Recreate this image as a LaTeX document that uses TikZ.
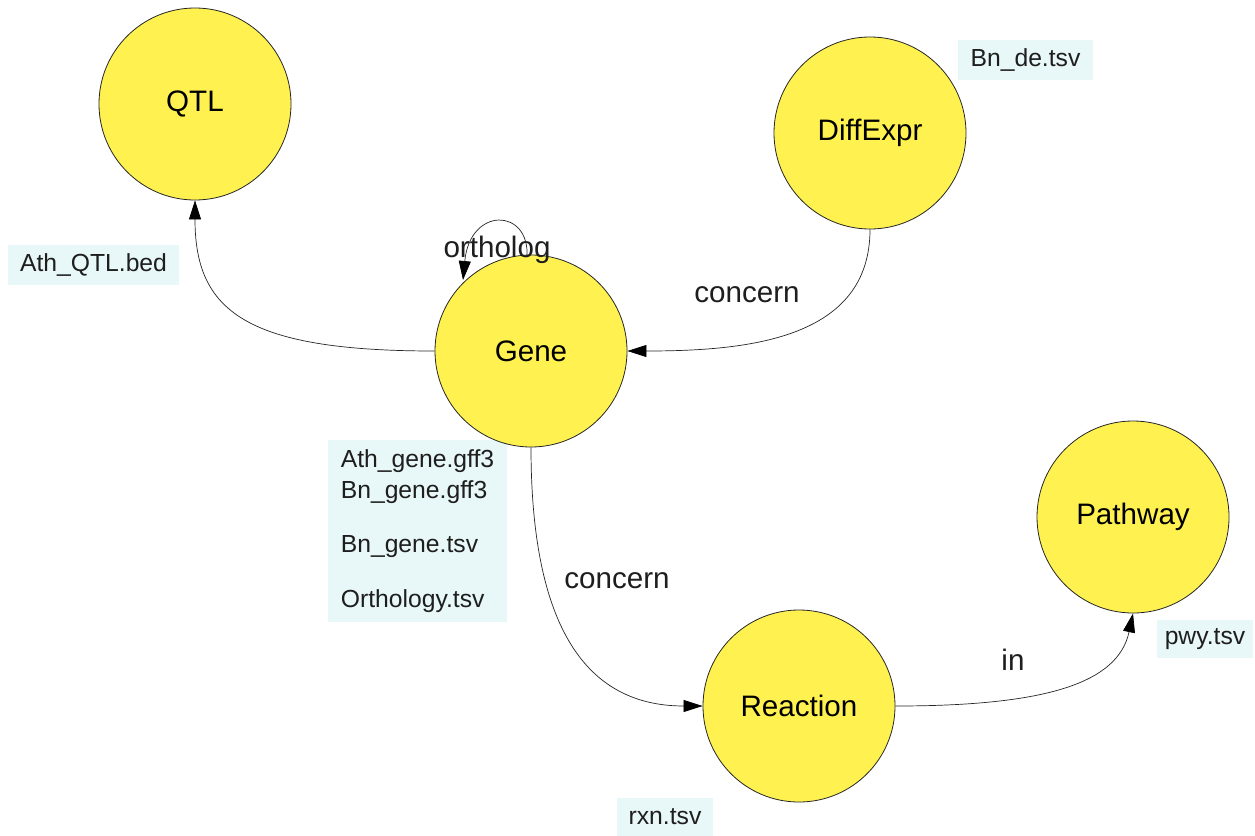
\documentclass[tikz,border=0pt]{standalone}
\usepackage{fontspec}
\setmainfont{Liberation Sans}
\usetikzlibrary{arrows.meta}
\definecolor{nodeyellow}{RGB}{255,242,80}
\definecolor{boxcyan}{RGB}{232,247,247}
\definecolor{txt}{RGB}{30,30,30}
\begin{document}
\begin{tikzpicture}[x=1pt,y=-1pt,
  entity/.style={circle, draw=black!85, line width=0.8pt, fill=nodeyellow, minimum size=192pt, inner sep=0pt, font=\fontsize{29.6}{34}\selectfont},
  filebox/.style={fill=boxcyan, text=txt, inner sep=0pt, font=\fontsize{24.7}{31}\selectfont},
  rel/.style={draw=black!85, line width=0.7pt, -{Triangle[length=19pt,width=12pt,fill=black,color=black]}},
  rellabel/.style={font=\fontsize{29.6}{34}\selectfont, anchor=base, text=txt}]
\useasboundingbox (0,0) rectangle (1255,835);
\fill[white] (0,0) rectangle (1255,835);
% file boxes
\node[filebox, minimum width=171pt, minimum height=40pt] (qtlfile) at (93.5,265) {Ath\_QTL.bed};
\node[filebox, minimum width=135pt, minimum height=40pt] (defile) at (1025.5,60) {Bn\_de.tsv};
\node[filebox, minimum width=96pt, minimum height=38pt] (pwyfile) at (1205,639) {pwy.tsv};
\node[filebox, minimum width=96pt, minimum height=38pt] (rxnfile) at (665,817) {rxn.tsv};
\node[filebox, minimum width=179pt, minimum height=182pt, align=left, inner xsep=12pt] (genefile) at (417.5,531)
  {Ath\_gene.gff3\\Bn\_gene.gff3\\[23pt]Bn\_gene.tsv\\[24pt]Orthology.tsv};
% entities
\node[entity] (qtl) at (195,104) {QTL};
\node[entity] (diff) at (870,133) {DiffExpr};
\node[entity] (gene) at (531,351) {Gene};
\node[entity] (path) at (1133,517) {Pathway};
\node[entity] (rxn) at (799,706) {Reaction};
% relations
\coordinate (loopstart) at (527,257);
\coordinate (loopend) at (463,280);
\draw[rel] (gene.west) .. controls +(-190,0) and +(0,110) .. (qtl.south);
\draw[rel] (diff.south) .. controls +(0,110) and +(120,0) .. (gene.east);
\draw[rel] (gene.south) .. controls +(0,190) and +(-110,0) .. (rxn.west);
\draw[rel] (rxn.east) .. controls +(150,0) and +(-15,70) .. (path.south);
\draw[rel] (loopstart) .. controls (530,208) and (470,206) .. (loopend);
% labels
\node[rellabel] (lortholog) at (497,257) {ortholog};
\node[rellabel] (lconcern1) at (747,302) {concern};
\node[rellabel] (lconcern2) at (617,588) {concern};
\node[rellabel] (lin) at (1013,670) {in};
\end{tikzpicture}
\end{document}
